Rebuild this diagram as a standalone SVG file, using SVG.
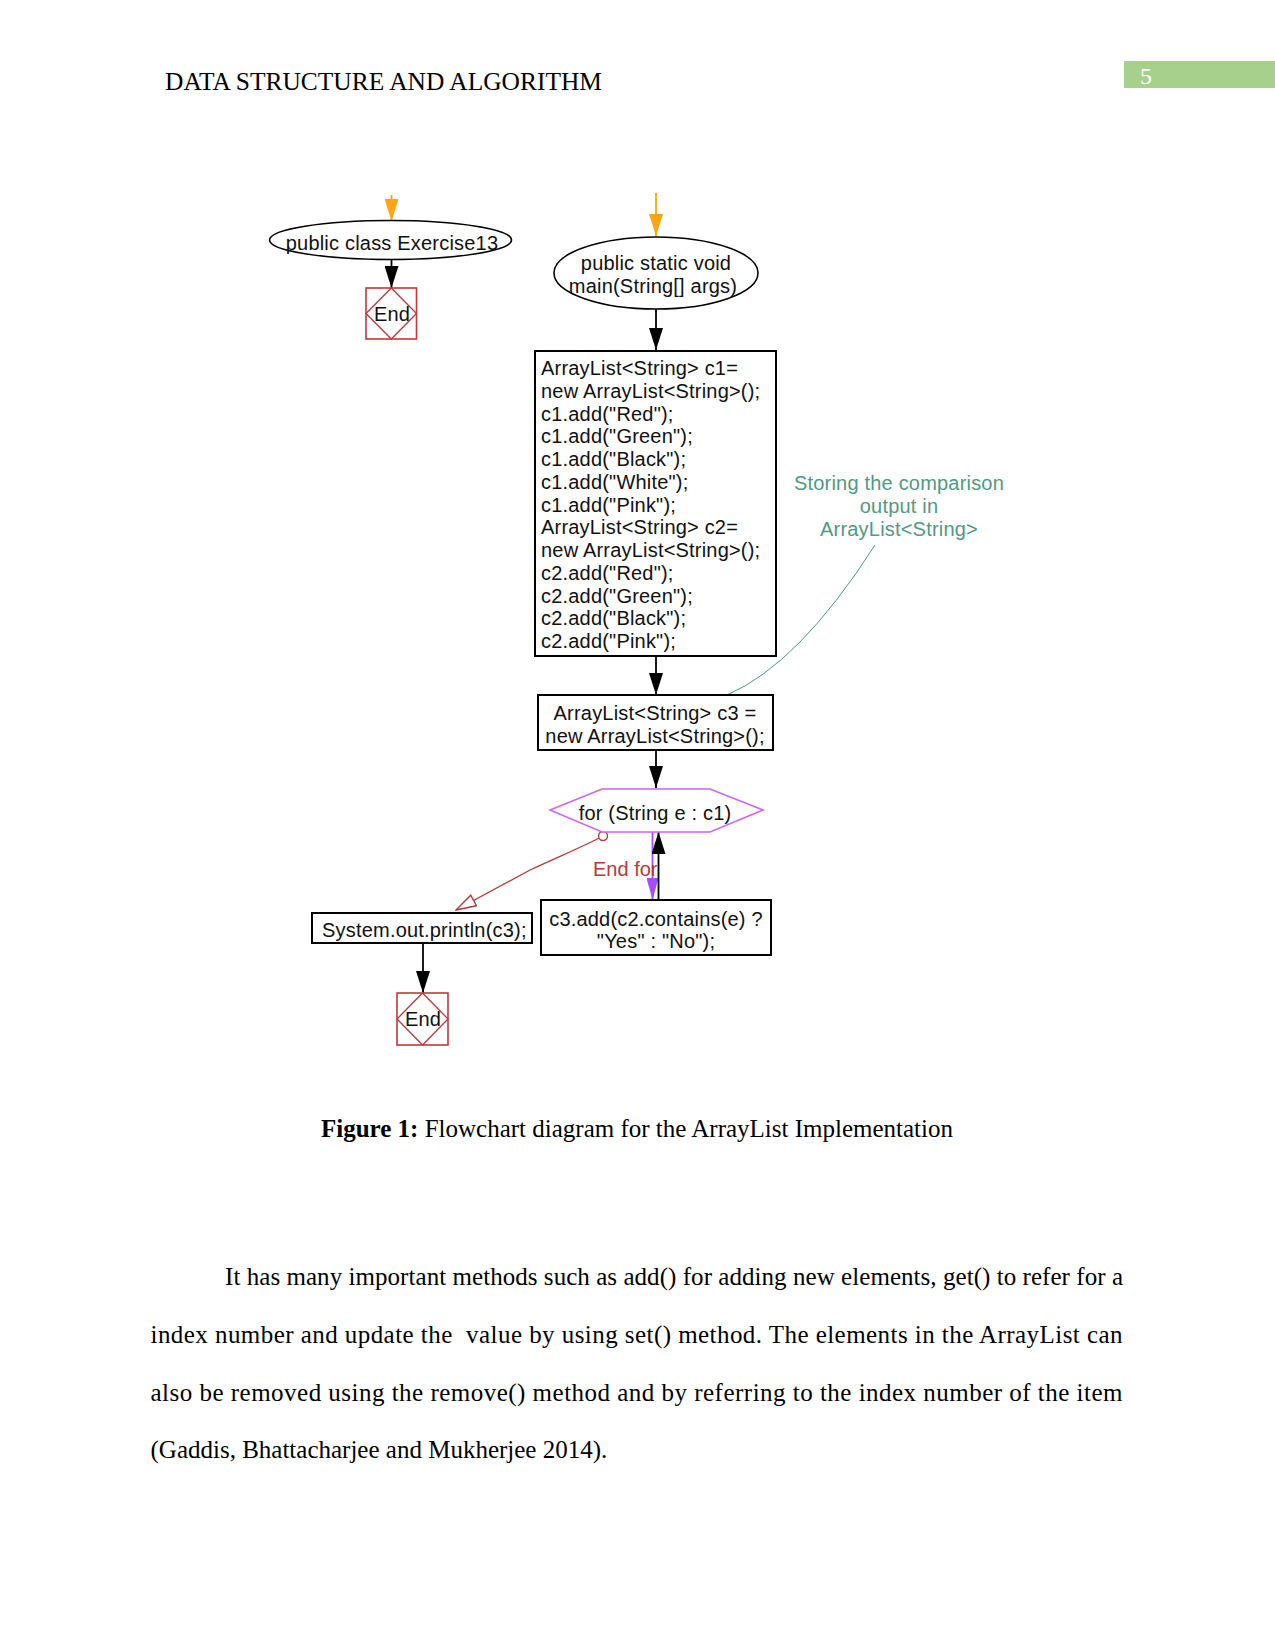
<svg xmlns="http://www.w3.org/2000/svg" width="1275" height="1651" viewBox="0 0 1275 1651">
<style>
  .serif { font-family: "Liberation Serif", "Times New Roman", serif; font-size: 25px; fill: #000; }
  .fc { font-family: "Liberation Sans", Arial, sans-serif; font-size: 20px; fill: #111; letter-spacing: 0.2px; }
  .mid { text-anchor: middle; }
  .box { fill: #fff; stroke: #000; stroke-width: 2; }
  .oval { fill: #fff; stroke: #000; stroke-width: 1.6; }
  .endbox { fill: #fff; stroke: #C0393B; stroke-width: 1.6; }
  .enddia { fill: none; stroke: #C0393B; stroke-width: 1.3; }
  .blk { stroke: #000; stroke-width: 1.8; fill: none; }
  .org { stroke: #FFA514; stroke-width: 1.8; fill: none; }
  .note { font-family: "Liberation Sans", Arial, sans-serif; font-size: 20px; fill: #4F9A84; letter-spacing: 0.2px; }
</style>
<defs>
  <marker id="ahBlack" viewBox="0 0 22 14" refX="22" refY="7" markerWidth="22" markerHeight="14" markerUnits="userSpaceOnUse" orient="auto">
    <path d="M0,0 L22,7 L0,14 z" fill="#000"/>
  </marker>
  <marker id="ahOrange" viewBox="0 0 22 14" refX="22" refY="7" markerWidth="22" markerHeight="14" markerUnits="userSpaceOnUse" orient="auto">
    <path d="M0,0 L22,7 L0,14 z" fill="#FFA514"/>
  </marker>
  <marker id="ahPurple" viewBox="0 0 22 12" refX="22" refY="6" markerWidth="22" markerHeight="12" markerUnits="userSpaceOnUse" orient="auto">
    <path d="M0,0 L22,6 L0,12 z" fill="#A64DFF"/>
  </marker>
  <marker id="ahOpen" viewBox="0 0 22 14" refX="21" refY="7" markerWidth="22" markerHeight="14" markerUnits="userSpaceOnUse" orient="auto">
    <path d="M1,1 L21,7 L1,13 z" fill="#fff" stroke="#B8393B" stroke-width="1.4"/>
  </marker>
</defs>

<rect width="1275" height="1651" fill="#fff"/>

<!-- header -->
<g id="header">
  <text class="serif" x="165" y="90" textLength="437" lengthAdjust="spacingAndGlyphs">DATA STRUCTURE AND ALGORITHM</text>
  <rect x="1124" y="61" width="151" height="27" fill="#A8D08D"/>
  <text x="1140" y="84" font-family="Liberation Serif, serif" font-size="24" fill="#fff">5</text>
</g>

<!-- connectors -->
<g id="connectors">
  <line class="org" x1="391.5" y1="195" x2="391.5" y2="221" marker-end="url(#ahOrange)"/>
  <line class="blk" x1="391.5" y1="260" x2="391.5" y2="288" marker-end="url(#ahBlack)"/>
  <line class="org" x1="656" y1="193" x2="656" y2="236" marker-end="url(#ahOrange)"/>
  <line class="blk" x1="656" y1="309" x2="656" y2="350" marker-end="url(#ahBlack)"/>
  <line class="blk" x1="656" y1="656" x2="656" y2="695" marker-end="url(#ahBlack)"/>
  <line class="blk" x1="656" y1="750" x2="656" y2="788" marker-end="url(#ahBlack)"/>
  <line x1="652.5" y1="832" x2="652.5" y2="900" stroke="#A64DFF" stroke-width="1.8" marker-end="url(#ahPurple)"/>
  <line class="blk" x1="658.5" y1="900" x2="658.5" y2="832" marker-end="url(#ahBlack)"/>
  <path d="M599,838 C580,848 560,856 530,870 L456,910" fill="none" stroke="#B8393B" stroke-width="1.3" marker-end="url(#ahOpen)"/>
  <circle cx="603" cy="836" r="4.5" fill="#fff" stroke="#B8393B" stroke-width="1.4"/>
  <text x="593" y="876" font-family="Liberation Sans, Arial, sans-serif" font-size="20" fill="#B8393B">End for</text>
  <line class="blk" x1="423" y1="943" x2="423" y2="993" marker-end="url(#ahBlack)"/>
  <path d="M875,545 Q799,664 727,695" fill="none" stroke="#4F9A84" stroke-width="1"/>
</g>

<!-- nodes -->
<g id="n_class">
  <ellipse class="oval" cx="390.5" cy="240" rx="121" ry="19.5"/>
  <text class="fc mid" x="392" y="250">public class Exercise13</text>
</g>
<g id="n_end1">
  <rect class="endbox" x="366" y="288" width="50.5" height="51"/>
  <path class="enddia" d="M391.25,288 L416.5,313.5 L391.25,339 L366,313.5 z"/>
  <text class="fc mid" x="392" y="321">End</text>
</g>
<g id="n_main">
  <ellipse class="oval" cx="656" cy="273" rx="102" ry="36"/>
  <text class="fc mid" x="656" y="270">public static void</text>
  <text class="fc mid" x="653" y="293">main(String[] args)</text>
</g>
<g id="n_init">
  <rect class="box" x="535" y="351" width="241" height="305"/>
  <text class="fc" x="541" y="375">ArrayList&lt;String&gt; c1=</text>
  <text class="fc" x="541" y="397.8">new ArrayList&lt;String&gt;();</text>
  <text class="fc" x="541" y="420.5">c1.add("Red");</text>
  <text class="fc" x="541" y="443.3">c1.add("Green");</text>
  <text class="fc" x="541" y="466">c1.add("Black");</text>
  <text class="fc" x="541" y="488.8">c1.add("White");</text>
  <text class="fc" x="541" y="511.5">c1.add("Pink");</text>
  <text class="fc" x="541" y="534.3">ArrayList&lt;String&gt; c2=</text>
  <text class="fc" x="541" y="557">new ArrayList&lt;String&gt;();</text>
  <text class="fc" x="541" y="579.8">c2.add("Red");</text>
  <text class="fc" x="541" y="602.5">c2.add("Green");</text>
  <text class="fc" x="541" y="625.3">c2.add("Black");</text>
  <text class="fc" x="541" y="648">c2.add("Pink");</text>
</g>
<g id="n_c3">
  <rect class="box" x="538" y="695" width="235" height="55"/>
  <text class="fc mid" x="655" y="720">ArrayList&lt;String&gt; c3 =</text>
  <text class="fc mid" x="655" y="743">new ArrayList&lt;String&gt;();</text>
</g>
<g id="n_for">
  <polygon points="550,810 602,789 710,789 763,810 710,832 602,832" fill="#fff" stroke="#CC66FF" stroke-width="1.5"/>
  <text class="fc mid" x="655" y="820">for (String e : c1)</text>
</g>
<g id="n_add">
  <rect class="box" x="541" y="900" width="230" height="55"/>
  <text class="fc mid" x="656" y="926">c3.add(c2.contains(e) ?</text>
  <text class="fc mid" x="656" y="948">"Yes" : "No");</text>
</g>
<g id="n_print">
  <rect class="box" x="312" y="913" width="220" height="30"/>
  <text class="fc" x="322" y="937">System.out.println(c3);</text>
</g>
<g id="n_end2">
  <rect class="endbox" x="397" y="993" width="51" height="52"/>
  <path class="enddia" d="M422.5,993 L448,1019 L422.5,1045 L397,1019 z"/>
  <text class="fc mid" x="423" y="1026">End</text>
</g>
<g id="n_note">
  <text class="note mid" x="899" y="490">Storing the comparison</text>
  <text class="note mid" x="899" y="513">output in</text>
  <text class="note mid" x="899" y="536">ArrayList&lt;String&gt;</text>
</g>

<!-- caption -->
<g id="caption">
  <text class="serif" x="321" y="1137"><tspan font-weight="bold">Figure 1:</tspan> Flowchart diagram for the ArrayList Implementation</text>
</g>

<!-- body -->
<g id="body">
  <text class="serif" x="225" y="1285" textLength="898" lengthAdjust="spacing">It has many important methods such as add() for adding new elements, get() to refer for a</text>
  <text class="serif" x="150.5" y="1343" textLength="972" lengthAdjust="spacing" style="white-space:pre">index number and update the  value by using set() method. The elements in the ArrayList can</text>
  <text class="serif" x="150.5" y="1401" textLength="972" lengthAdjust="spacing">also be removed using the remove() method and by referring to the index number of the item</text>
  <text class="serif" x="150.5" y="1458">(Gaddis, Bhattacharjee and Mukherjee 2014).</text>
</g>
</svg>
